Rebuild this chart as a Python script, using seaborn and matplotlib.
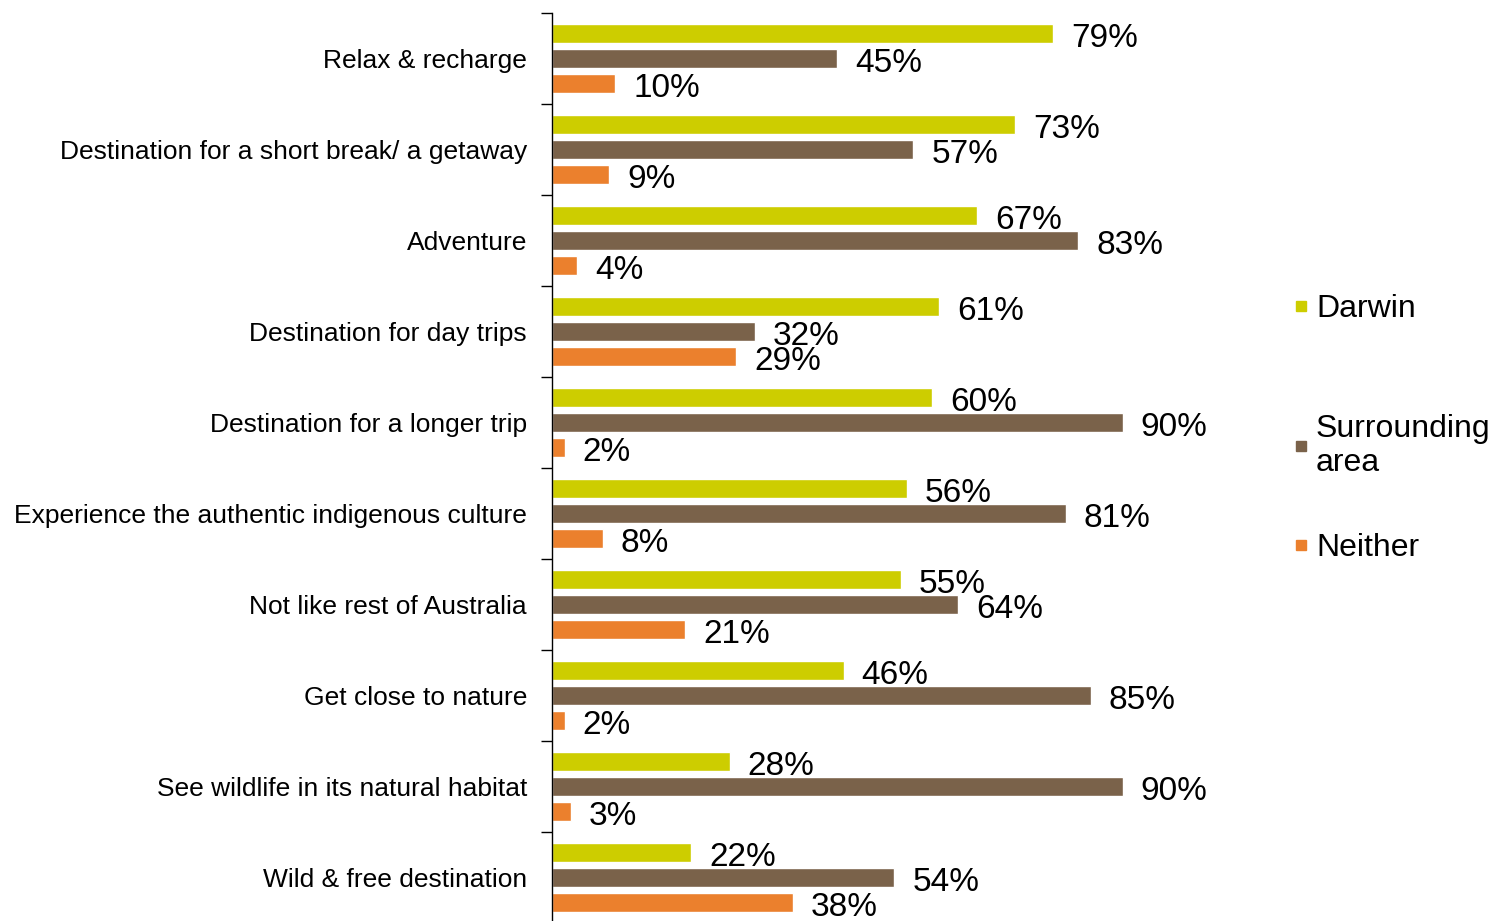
import matplotlib
matplotlib.use("Agg")
import matplotlib.pyplot as plt
from matplotlib.lines import Line2D
import numpy as np
import pandas as pd
import seaborn as sns

categories = [
    "Relax & recharge",
    "Destination for a short break/ a getaway",
    "Adventure",
    "Destination for day trips",
    "Destination for a longer trip",
    "Experience the authentic indigenous culture",
    "Not like rest of Australia",
    "Get close to nature",
    "See wildlife in its natural habitat",
    "Wild & free destination",
]
series = ["Darwin", "Surrounding area", "Neither"]
darwin = [79, 73, 67, 61, 60, 56, 55, 46, 28, 22]
surrounding = [45, 57, 83, 32, 90, 81, 64, 85, 90, 54]
neither = [10, 9, 4, 29, 2, 8, 21, 2, 3, 38]
colors = ["#CDCD00", "#7A624A", "#EB802D"]
legend_labels = ["Darwin", "Surrounding\narea", "Neither"]

df = pd.DataFrame({
    "category": categories * 3,
    "series": np.repeat(series, len(categories)),
    "value": darwin + surrounding + neither,
})

sns.set_style("white")
plt.rcParams["font.family"] = ["Liberation Sans", "DejaVu Sans"]
plt.rcParams["text.color"] = "black"
plt.rcParams["ytick.color"] = "black"
plt.rcParams["ytick.labelcolor"] = "black"

fig = plt.figure(figsize=(14.88, 9.21), dpi=100)
ax = fig.add_axes([552 / 1488, (921 - 923) / 921, 634 / 1488, 910 / 921])

sns.barplot(data=df, x="value", y="category", hue="series", palette=colors,
            orient="h", width=0.825, gap=0.24, saturation=1, errorbar=None,
            ax=ax, legend=False)

for cont in ax.containers:
    labels = ax.bar_label(cont, fmt="%d%%", padding=13, fontsize=24)
    for t in labels:
        t.xyann = (t.xyann[0], -3.5)

ax.set_xlim(0, 100)
ax.set_ylim(len(categories) - 0.5, -0.5)
ax.set_xlabel("")
ax.set_ylabel("")
ax.set_xticks([])
for s in ["top", "right", "bottom"]:
    ax.spines[s].set_visible(False)
ax.spines["left"].set_color("black")
ax.spines["left"].set_linewidth(1)

ax.set_yticks(range(len(categories)))
ax.set_yticklabels(categories, fontsize=19)
ax.tick_params(axis="y", which="major", length=0, pad=18)
ax.set_yticks(np.arange(-0.5, len(categories), 1), minor=True)
ax.tick_params(axis="y", which="minor", length=8, width=1, color="black", left=True)

# one legend per entry so the uneven spacing of the reference can be kept
legend_y = [309, 446, 548]
for c, lab, y in zip(colors, legend_labels, legend_y):
    h = Line2D([], [], marker="s", linestyle="", markersize=7, color=c)
    fig.legend([h], [lab], loc="center left", bbox_to_anchor=(1291 / 1488, 1 - y / 921),
               frameon=False, fontsize=23, handlelength=0.6, handletextpad=0.18,
               borderpad=0, borderaxespad=0)

fig.savefig("out.png", dpi=100)
